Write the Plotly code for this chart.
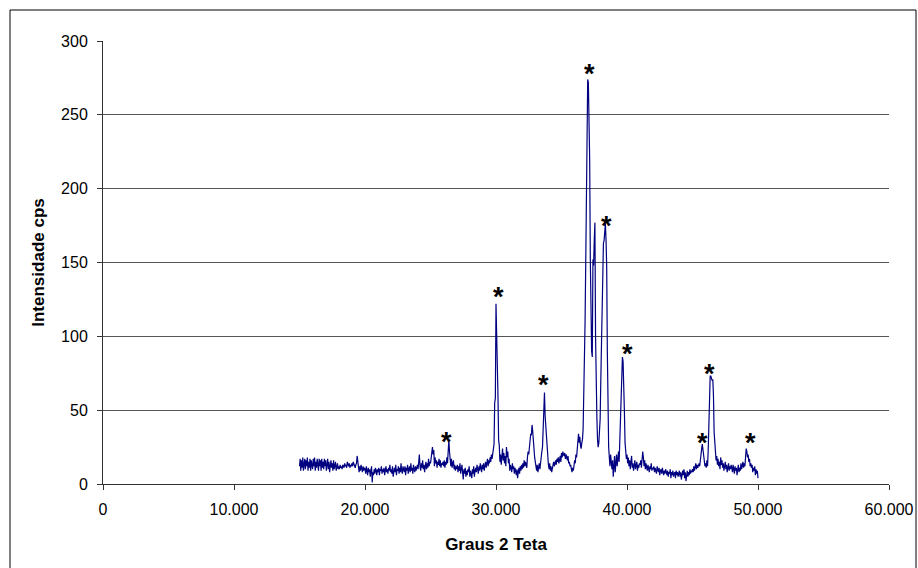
import plotly.graph_objects as go

# ---- data ----
start_angle = 15.0
angle_step = 0.05
intensity = [
    # 15.00 - 15.95
    12, 17, 9, 16, 11, 18, 9, 14, 17, 10, 16, 12, 18, 9, 15, 11, 17, 9, 16, 13,
    # 16
    10, 17, 12, 18, 9, 15, 11, 17, 13, 9, 17, 12, 16, 9, 17, 11, 15, 10, 17, 12,
    # 17
    16, 9, 13, 17, 10, 15, 8, 12, 16, 11, 14, 9, 16, 10, 12, 15, 9, 11, 14, 10,
    # 18
    12, 10, 13, 11, 12, 10, 13, 12, 11, 14, 12, 13, 11, 15, 13, 12, 14, 11, 13, 12,
    # 19
    14, 12, 15, 13, 12, 11, 13, 14, 19, 16, 12, 8, 12, 9, 13, 10, 8, 12, 9, 11,
    # 20
    10, 7, 12, 9, 6, 11, 8, 10, 5, 9, 12, 1, 8, 6, 10, 7, 11, 9, 6, 10,
    # 21
    8, 11, 6, 10, 9, 12, 7, 10, 8, 11, 6, 9, 12, 8, 10, 7, 11, 9, 13, 8,
    # 22
    10, 7, 12, 5, 9, 11, 8, 13, 6, 10, 9, 12, 7, 11, 8, 14, 9, 7, 12, 10,
    # 23
    8, 12, 6, 11, 9, 13, 7, 10, 12, 8, 14, 9, 11, 7, 13, 10, 8, 12, 9, 11,
    # 24
    13, 10, 15, 20, 12, 9, 14, 11, 16, 10, 13, 8, 12, 15, 10, 14, 11, 17, 12, 15,
    # 25
    14, 18, 22, 25, 20, 23, 12, 18, 14, 16, 11, 15, 13, 17, 12, 16, 11, 14, 13, 15,
    # 26
    12, 16, 11, 15, 13, 18, 14, 20, 30, 22, 15, 12, 17, 11, 14, 16, 10, 13, 9, 12,
    # 27
    10, 13, 8, 12, 9, 14, 7, 11, 13, 8, 3, 10, 7, 11, 5, 9, 6, 10, 8, 12,
    # 28
    5, 9, 6, 4, 10, 7, 12, 5, 9, 11, 8, 13, 10, 7, 12, 9, 14, 11, 8, 13,
    # 29
    10, 14, 9, 12, 15, 11, 13, 17, 12, 16, 14, 18, 15, 20, 17, 22, 22, 27, 55, 58,
    # 30
    122, 104, 84, 60, 30, 26, 15, 20, 13, 18, 24, 16, 21, 14, 19, 12, 25, 18, 22, 14,
    # 31
    17, 9, 13, 11, 8, 14, 10, 12, 7, 11, 9, 6, 10, 4, 8, 11, 7, 12, 9, 13,
    # 32
    10, 14, 11, 16, 12, 15, 13, 11, 18, 22, 20, 27, 30, 34, 33, 40, 36, 28, 22, 18,
    # 33
    15, 12, 9, 13, 8, 11, 14, 10, 16, 18, 22, 25, 35, 50, 62, 46, 40, 30, 21, 16,
    # 34
    13, 10, 14, 9, 12, 8, 11, 13, 15, 12, 14, 16, 13, 17, 15, 18, 14, 16, 19, 15,
    # 35
    21, 18, 22, 20, 19, 21, 17, 20, 18, 16, 19, 14, 15, 12, 13, 10, 8, 11, 9, 12,
    # 36
    16, 14, 20, 18, 25, 30, 34, 28, 32, 26, 24, 28, 30, 37, 60, 75, 110, 150, 210, 265,
    # 37
    274, 272, 250, 220, 152, 110, 90, 86, 152, 148, 165, 177, 100, 60, 45, 30, 25, 28, 35, 44,
    # 38
    70, 100, 115, 140, 163, 165, 172, 176, 165, 147, 89, 50, 25, 18, 12, 20, 14, 10, 16, 5,
    # 39
    12, 19, 8, 14, 20, 12, 18, 22, 15, 30, 39, 70, 84, 86, 83, 72, 50, 28, 21, 17,
    # 40
    20, 14, 18, 12, 16, 10, 15, 19, 11, 14, 9, 13, 16, 10, 12, 15, 9, 13, 11, 14,
    # 41
    13, 16, 11, 15, 22, 18, 12, 16, 10, 14, 12, 9, 13, 11, 8, 12, 10, 14, 9, 11,
    # 42
    10, 12, 8, 11, 9, 7, 12, 10, 8, 11, 6, 9, 10, 7, 11, 8, 6, 9, 7, 10,
    # 43
    8, 6, 9, 5, 8, 7, 10, 4, 8, 6, 9, 5, 7, 8, 4, 9, 6, 8, 5, 7,
    # 44
    9, 5, 8, 3, 7, 9, 6, 10, 4, 8, 2, 7, 9, 5, 8, 6, 10, 7, 9, 8,
    # 45
    10, 8, 12, 9, 11, 14, 10, 13, 11, 12, 14, 12, 18, 21, 24, 27, 22, 18, 15, 12,
    # 46
    14, 11, 16, 12, 23, 45, 65, 73, 73, 72, 70, 71, 60, 35, 25, 21, 16, 19, 13, 17,
    # 47
    12, 15, 10, 18, 13, 16, 11, 14, 9, 12, 15, 10, 13, 8, 11, 14, 9, 12, 10, 13,
    # 48
    11, 8, 13, 10, 7, 12, 9, 11, 6, 10, 13, 8, 11, 9, 14, 10, 12, 15, 11, 14,
    # 49
    12, 16, 24, 22, 18, 20, 15, 17, 12, 14, 11, 13, 8, 11, 9, 12, 6, 10, 7, 9,
    # 50
    4,
]
angles = [round(start_angle + angle_step * i, 2) for i in range(len(intensity))]

star_angles = [26.24, 30.2, 33.63, 37.15, 38.42, 40.0, 45.77, 46.31, 49.41]
star_values = [32.3, 130.4, 71.4, 281.6, 179.0, 92.1, 31.9, 78.6, 31.9]

x_tick_values = [0, 10, 20, 30, 40, 50, 60]
x_tick_labels = ["0", "10.000", "20.000", "30.000", "40.000", "50.000", "60.000"]
y_tick_values = [0, 50, 100, 150, 200, 250, 300]

FONT = "Liberation Sans, Arial, sans-serif"

fig = go.Figure()
fig.add_trace(go.Scatter(
    x=angles, y=intensity, mode="lines",
    line=dict(color="#000080", width=1.2),
    showlegend=False, hoverinfo="skip",
))

for sx, sy in zip(star_angles, star_values):
    fig.add_annotation(
        x=sx, y=sy, xref="x", yref="y", text="<b>*</b>", showarrow=False,
        font=dict(family=FONT, size=27, color="black"),
        xanchor="center", yanchor="middle", yshift=-6,
    )

W, H = 918, 568
L, R, T, B = 103, 29, 41, 84
pw, ph = W - L - R, H - T - B
# outer chart border
fig.add_shape(
    type="rect", xref="paper", yref="paper",
    x0=(10 - L) / pw, x1=(916 - L) / pw,
    y0=(H - B - 575) / ph, y1=(H - B - 10) / ph,
    line=dict(color="black", width=1), fillcolor="rgba(0,0,0,0)", layer="below",
)

fig.update_layout(
    width=W, height=H,
    margin=dict(l=L, r=R, t=T, b=B, pad=0, autoexpand=False),
    paper_bgcolor="white", plot_bgcolor="white",
    font=dict(family=FONT, size=16, color="black"),
    xaxis=dict(
        range=[0, 60], tickvals=x_tick_values, ticktext=x_tick_labels,
        automargin=False,
        showgrid=False, zeroline=False, showline=True, linecolor="#333333", linewidth=1,
        ticks="outside", ticklen=5, tickcolor="#333333", ticklabelstandoff=6,
        title=dict(text="<b>Graus 2 Teta</b>", font=dict(size=17), standoff=20),
    ),
    yaxis=dict(
        range=[0, 300], tickvals=y_tick_values, automargin=False,
        showgrid=True, gridcolor="#555555", gridwidth=1,
        zeroline=False, showline=True, linecolor="#333333", linewidth=1,
        ticks="outside", ticklen=5, tickcolor="#333333", ticklabelstandoff=6,
        title=dict(text="<b>Intensidade cps</b>", font=dict(size=17), standoff=12),
    ),
)

fig.write_html("out.html")
